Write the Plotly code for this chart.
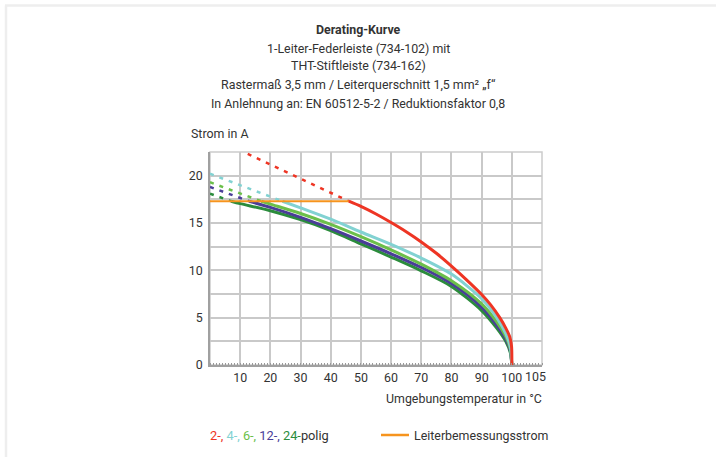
import plotly.graph_objects as go

# ---------------- data ----------------
rated_T = [0, 46]
rated_I = [17.3, 17.3]

red_dash_T = [12.5, 46]
red_dash_I = [22.3, 17.3]
red_T = [46, 50, 55, 60, 65, 70, 75, 80, 85, 90, 93, 96, 98, 99.3, 99.9, 100]
red_I = [17.3, 16.75, 15.95, 15.05, 14.08, 13.0, 11.8, 10.45, 9.0, 7.45, 6.35, 5.0, 3.9, 3.0, 2.0, 0]

cyan_dash_T = [0, 24]
cyan_dash_I = [20.2, 17.3]
cyan_T = [24, 30, 40, 50, 60, 70, 80, 90, 95, 98, 99.5, 100]
cyan_I = [17.3, 16.6, 15.4, 14.05, 12.75, 11.3, 9.6, 7.0, 5.0, 3.3, 1.9, 0]

lgreen_dash_T = [0, 17]
lgreen_dash_I = [19.3, 17.3]
lgreen_T = [17, 20, 30, 40, 50, 60, 70, 80, 90, 95, 98, 99.5, 100]
lgreen_I = [17.3, 17.0, 16.0, 14.85, 13.55, 12.15, 10.65, 8.9, 6.45, 4.55, 3.0, 1.7, 0]

purple_dash_T = [0, 13]
purple_dash_I = [18.8, 17.3]
purple_T = [13, 20, 30, 40, 50, 60, 70, 80, 90, 95, 98, 99.5, 100]
purple_I = [17.3, 16.65, 15.6, 14.4, 13.1, 11.75, 10.3, 8.6, 6.1, 4.2, 2.75, 1.5, 0]

dgreen_dash_T = [0, 7]
dgreen_dash_I = [18.1, 17.3]
dgreen_T = [7, 10, 20, 30, 40, 50, 60, 70, 80, 90, 95, 98, 99.5, 100]
dgreen_I = [17.3, 17.05, 16.3, 15.35, 14.2, 12.8, 11.4, 9.95, 8.3, 5.75, 3.9, 2.5, 1.3, 0]

x_tickvals = [10, 20, 30, 40, 50, 60, 70, 80, 90, 100]
x_ticktext = ["10", "20", "30", "40", "50", "60", "70", "80", "90", "100"]
y_tickvals = [0, 5, 10, 15, 20]
y_ticktext = ["0", "5", "10", "15", "20"]

title_lines = [
    "<b>Derating-Kurve</b>",
    "1-Leiter-Federleiste (734-102) mit",
    "THT-Stiftleiste (734-162)",
    "Rastermaß 3,5 mm / Leiterquerschnitt 1,5 mm² „f“",
    "In Anlehnung an: EN 60512-5-2 / Reduktionsfaktor 0,8",
]

# ---------------- style ----------------
FONT = "Roboto, sans-serif"
FS = 12.4
TXT = "#333333"
RED = "#ee3524"
CYAN = "#82d2d2"
LGREEN = "#6bbf4a"
PURPLE = "#4a3d98"
DGREEN = "#2b8c3c"
ORANGE = "#f6941e"
GRID = "#c9c9c9"

fig = go.Figure()

def dashed(x, y, c):
    fig.add_trace(go.Scatter(x=x, y=y, mode="lines",
                             line=dict(color=c, width=2.5, dash="4px,6px"),
                             showlegend=False, hoverinfo="skip"))

def solid(x, y, c, w=3):
    fig.add_trace(go.Scatter(x=x, y=y, mode="lines",
                             line=dict(color=c, width=w, shape="spline", smoothing=0.8),
                             showlegend=False, hoverinfo="skip"))

dashed(dgreen_dash_T, dgreen_dash_I, DGREEN)
dashed(purple_dash_T, purple_dash_I, PURPLE)
dashed(lgreen_dash_T, lgreen_dash_I, LGREEN)
dashed(cyan_dash_T, cyan_dash_I, CYAN)
dashed(red_dash_T, red_dash_I, RED)

solid(dgreen_T, dgreen_I, DGREEN)
solid(purple_T, purple_I, PURPLE)
solid(lgreen_T, lgreen_I, LGREEN)
solid(cyan_T, cyan_I, CYAN)

fig.add_trace(go.Scatter(x=rated_T, y=rated_I, mode="lines",
                         line=dict(color=ORANGE, width=1.8),
                         showlegend=False, hoverinfo="skip"))
solid(red_T, red_I, RED)

L, R, T, B = 210, 174, 152, 92
W, H = 716, 457
pw, ph = W - L - R, H - T - B

def px(x):
    return (x - L) / pw

def py(y):
    return (H - B - y) / ph

ann = []
ys = [30, 48, 66, 85, 103]
for t, yy in zip(title_lines, ys):
    ann.append(dict(text=t, x=px(358), y=py(yy), xref="paper", yref="paper",
                    xanchor="center", yanchor="middle", showarrow=False,
                    font=dict(size=FS, color=TXT, family=FONT)))
ann.append(dict(text="Strom in A", x=px(189), y=py(133), xref="paper", yref="paper",
                xanchor="left", yanchor="middle", showarrow=False,
                font=dict(size=FS, color=TXT, family=FONT)))
ann.append(dict(text="Umgebungstemperatur in °C", x=px(544), y=py(398), xref="paper", yref="paper",
                xanchor="right", yanchor="middle", showarrow=False,
                font=dict(size=FS, color=TXT, family=FONT)))
ann.append(dict(text="105", x=108, y=py(376), xref="x", yref="paper",
                xanchor="center", yanchor="middle", showarrow=False,
                font=dict(size=FS, color=TXT, family=FONT)))
legend_txt = (f"<span style='color:{RED}'>2-,</span> "
              f"<span style='color:{CYAN}'>4-,</span> "
              f"<span style='color:{LGREEN}'>6-,</span> "
              f"<span style='color:{PURPLE}'>12-,</span> "
              f"<span style='color:{DGREEN}'>24-</span>polig")
ann.append(dict(text=legend_txt, x=px(208), y=py(435), xref="paper", yref="paper",
                xanchor="left", yanchor="middle", showarrow=False,
                font=dict(size=FS + 0.4, color=TXT, family=FONT)))
ann.append(dict(text="Leiterbemessungsstrom", x=px(412), y=py(435), xref="paper", yref="paper",
                xanchor="left", yanchor="middle", showarrow=False,
                font=dict(size=FS, color=TXT, family=FONT)))

shapes = [
    dict(type="line", xref="paper", yref="paper", x0=px(381), x1=px(409), y0=py(435), y1=py(435),
         line=dict(color=ORANGE, width=2.5)),
    # page frame (top and left)
    dict(type="line", xref="paper", yref="paper", x0=px(5), x1=px(716), y0=py(5.5), y1=py(5.5),
         line=dict(color="#eeeeee", width=2.5)),
    dict(type="line", xref="paper", yref="paper", x0=px(6), x1=px(6), y0=py(5.5), y1=py(457),
         line=dict(color="#eeeeee", width=2.5)),
    # plot-area frame
    dict(type="rect", xref="paper", yref="paper", x0=0, x1=1, y0=0, y1=1,
         line=dict(color="#cccccc", width=1.5), layer="below"),
]

fig.update_layout(
    width=W, height=H,
    margin=dict(l=L, r=R, t=T, b=B, pad=0),
    paper_bgcolor="white", plot_bgcolor="white",
    font=dict(family=FONT, color=TXT, size=FS),
    annotations=ann, shapes=shapes, showlegend=False,
    xaxis=dict(range=[0, 110], tickvals=x_tickvals, ticktext=x_ticktext,
               showgrid=True, gridcolor=GRID, gridwidth=1.5,
               showline=True, linecolor="#a0a0a0", linewidth=1.5, mirror=False,
               ticks="", ticklabelstandoff=0, zeroline=False,
               minor=dict(dtick=1, ticks="inside", ticklen=2, tickcolor="#999999",
                          showgrid=False),
               tickfont=dict(size=FS, color=TXT, family=FONT), fixedrange=True),
    yaxis=dict(range=[0, 22.5], tickvals=y_tickvals, ticktext=y_ticktext,
               showgrid=True, gridcolor=GRID, gridwidth=1.5,
               showline=True, linecolor="#a0a0a0", linewidth=1.5, mirror=False,
               ticks="", zeroline=False, ticklabelstandoff=3,
               minor=dict(dtick=2.5, showgrid=True, gridcolor=GRID, gridwidth=1.5),
               tickfont=dict(size=FS, color=TXT, family=FONT), fixedrange=True),
)

fig.write_html("out.html", config={"displayModeBar": False},
               post_script="document.body.style.margin='0';document.body.style.overflow='hidden';")
